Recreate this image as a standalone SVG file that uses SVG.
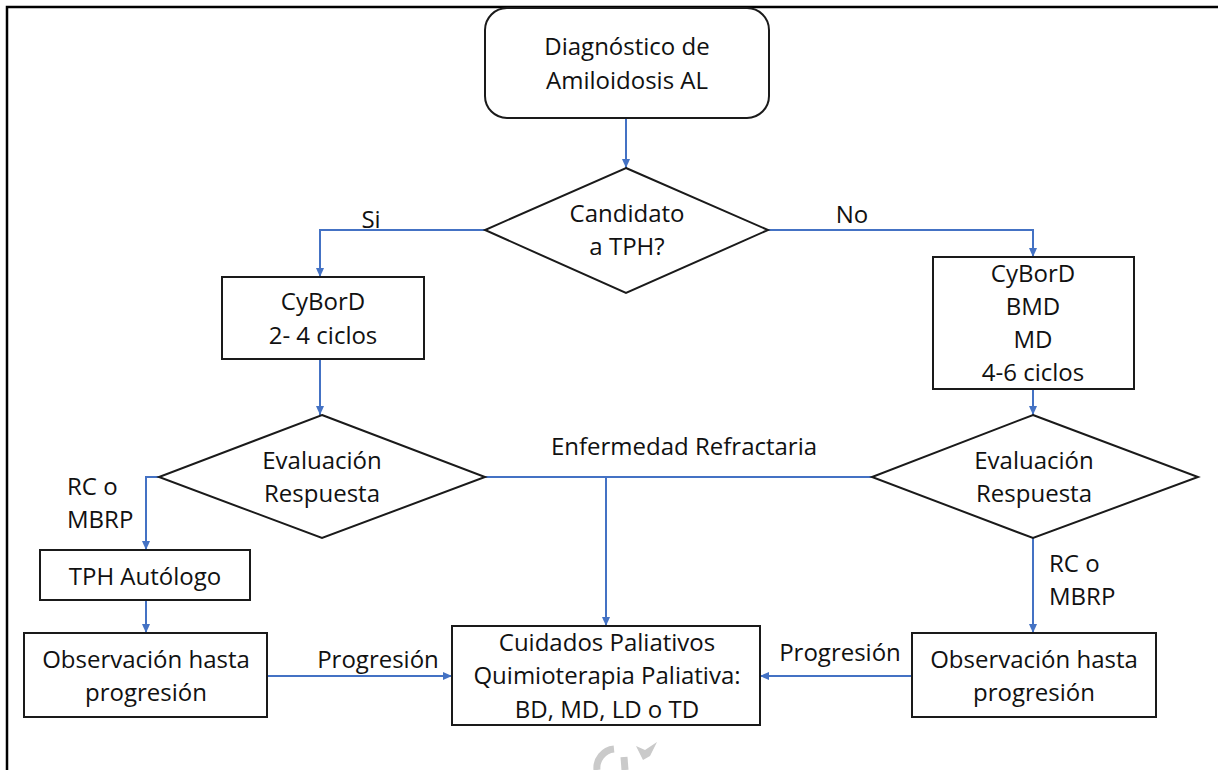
<svg xmlns="http://www.w3.org/2000/svg" width="1218" height="770" viewBox="0 0 1218 770">
  <defs>
    <marker id="arrow" markerUnits="userSpaceOnUse" markerWidth="10" markerHeight="10" refX="9" refY="5" orient="auto">
      <path d="M0,1 L9,5 L0,9 Z" fill="#4472C4"/>
    </marker>
    <style>
      .box { fill: #fff; stroke: #1a1a1a; stroke-width: 2; }
      .lbl { font-family: "Open Sans", "Noto Sans", "Liberation Sans", sans-serif; font-size: 24px; fill: #111; text-anchor: middle; }
      .lft { text-anchor: start; }
      .edge { fill: none; stroke: #4472C4; stroke-width: 2; }
      .arr { marker-end: url(#arrow); }
    </style>
  </defs>

  <rect width="1218" height="770" fill="#fff"/>
  <!-- outer frame (top and left only) -->
  <path d="M7,770 L7,7 L1218,7" fill="none" stroke="#000" stroke-width="2.5"/>

  <!-- faint grey mark below the palliative box -->
  <g fill="none" stroke="#cacaca" stroke-width="7">
    <path d="M614,749 A19,19 0 0 0 597,770"/>
    <path d="M624,757 L625,770"/>
  </g>
  <polygon points="636,746 645,750 657,742 650,756 643,760" fill="#cacaca"/>

  <g id="connectors">
    <path class="edge arr" d="M626,118 L626,168"/>
    <path class="edge arr" d="M485,230 L320,230 L320,277"/>
    <path class="edge arr" d="M768,230 L1033,230 L1033,257"/>
    <path class="edge arr" d="M320,359 L320,415"/>
    <path class="edge arr" d="M1033,389 L1033,415"/>
    <path class="edge arr" d="M159,477 L146,477 L146,550"/>
    <path class="edge arr" d="M146,600 L146,633"/>
    <path class="edge arr" d="M267,676 L452,676"/>
    <path class="edge arr" d="M912,676 L760,676"/>
    <path class="edge arr" d="M1033,538 L1033,633"/>
    <path class="edge" d="M485,477 L872,477"/>
    <path class="edge arr" d="M606,477 L606,626"/>

    <text class="lbl" x="371" y="228">Si</text>
    <text class="lbl" x="852" y="223">No</text>
    <text class="lbl" x="684" y="455">Enfermedad Refractaria</text>
    <text class="lbl lft" x="67" y="495">RC o</text>
    <text class="lbl lft" x="67" y="528">MBRP</text>
    <text class="lbl lft" x="1049" y="572">RC o</text>
    <text class="lbl lft" x="1049" y="605">MBRP</text>
    <text class="lbl" x="378" y="668">Progresión</text>
    <text class="lbl" x="840" y="661">Progresión</text>
  </g>

  <g id="diagnostico">
    <rect class="box" x="485" y="8" width="284" height="110" rx="22" ry="22"/>
    <text class="lbl" x="627" y="55">Diagnóstico de</text>
    <text class="lbl" x="627" y="89">Amiloidosis AL</text>
  </g>

  <g id="candidato">
    <polygon class="box" points="626,168 768,230 626,293 485,230"/>
    <text class="lbl" x="627" y="222">Candidato</text>
    <text class="lbl" x="627" y="255">a TPH?</text>
  </g>

  <g id="cybord-tph">
    <rect class="box" x="222" y="277" width="202" height="82"/>
    <text class="lbl" x="323" y="310">CyBorD</text>
    <text class="lbl" x="323" y="344">2- 4 ciclos</text>
  </g>

  <g id="cybord-no-tph">
    <rect class="box" x="933" y="257" width="201" height="132"/>
    <text class="lbl" x="1033" y="282">CyBorD</text>
    <text class="lbl" x="1033" y="315">BMD</text>
    <text class="lbl" x="1033" y="348">MD</text>
    <text class="lbl" x="1033" y="381">4-6 ciclos</text>
  </g>

  <g id="evaluacion-izq">
    <polygon class="box" points="322,415 485,477 322,538 159,477"/>
    <text class="lbl" x="322" y="469">Evaluación</text>
    <text class="lbl" x="322" y="502">Respuesta</text>
  </g>

  <g id="evaluacion-der">
    <polygon class="box" points="1033,415 1198,477 1033,538 872,477"/>
    <text class="lbl" x="1034" y="469">Evaluación</text>
    <text class="lbl" x="1034" y="502">Respuesta</text>
  </g>

  <g id="tph-autologo">
    <rect class="box" x="40" y="550" width="210" height="50"/>
    <text class="lbl" x="145" y="585">TPH Autólogo</text>
  </g>

  <g id="observacion-izq">
    <rect class="box" x="24" y="633" width="243" height="84"/>
    <text class="lbl" x="146" y="668">Observación hasta</text>
    <text class="lbl" x="146" y="701">progresión</text>
  </g>

  <g id="cuidados-paliativos">
    <rect class="box" x="452" y="626" width="308" height="99"/>
    <text class="lbl" x="607" y="651">Cuidados Paliativos</text>
    <text class="lbl" x="607" y="684">Quimioterapia Paliativa:</text>
    <text class="lbl" x="607" y="718">BD, MD, LD o TD</text>
  </g>

  <g id="observacion-der">
    <rect class="box" x="912" y="633" width="244" height="84"/>
    <text class="lbl" x="1034" y="668">Observación hasta</text>
    <text class="lbl" x="1034" y="701">progresión</text>
  </g>
</svg>
